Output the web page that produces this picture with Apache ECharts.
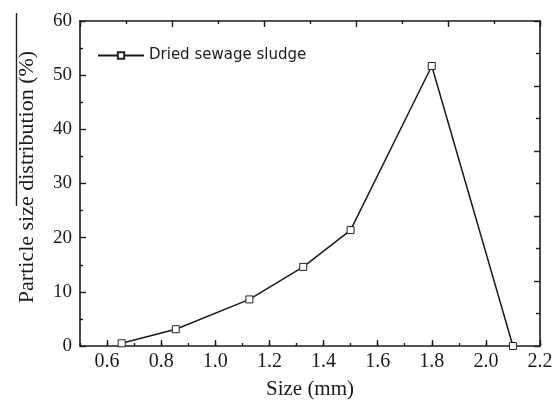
<!DOCTYPE html>
<html>
<head>
<meta charset="utf-8">
<style>
  html, body { margin: 0; padding: 0; background: #fff; }
  #chart { width: 560px; height: 402px; }
</style>
<script src="https://cdn.jsdelivr.net/npm/echarts@6/dist/echarts.min.js"></script>
</head>
<body>
<div id="chart"></div>
<script>
  // values
  const sizeMm = [0.654, 0.854, 1.126, 1.325, 1.5, 1.8, 2.1]
  const distribution = [0.5, 3.1, 8.6, 14.6, 21.4, 51.7, 0]
  const xTickLabels = [0.6, 0.8, 1.0, 1.2, 1.4, 1.6, 1.8, 2.0, 2.2]
  const seriesName = 'Dried sewage sludge'

  const serif = '"Liberation Serif", "Times New Roman", serif'
  const ink = '#1a1a1a'

  const chart = echarts.init(document.getElementById('chart'))

  const frameLine = { show: true, lineStyle: { color: ink, width: 1.6 } }

  const option = {
    animation: false,
    backgroundColor: '#fff',
    grid: { left: 80, right: 20, top: 21, bottom: 56, containLabel: false, outerBoundsMode: 'none' },
    graphic: [{
      type: 'line',
      shape: { x1: 16.5, y1: 13, x2: 16.5, y2: 206 },
      style: { stroke: '#222', lineWidth: 1.4 }
    }],
    legend: {
      left: 97,
      top: 48,
      padding: 0,
      itemWidth: 46,
      itemHeight: 8,
      data: [seriesName],
      textStyle: { fontFamily: '"DejaVu Sans", sans-serif', fontSize: 15, color: ink }
    },
    xAxis: [
      {
        type: 'value',
        position: 'bottom',
        min: 0.5,
        max: 2.2,
        interval: 0.1,
        name: 'Size (mm)',
        nameLocation: 'middle',
        nameGap: 33,
        nameTextStyle: { fontFamily: serif, fontSize: 21, color: ink },
        axisLine: frameLine,
        axisTick: { show: true, inside: true, length: 3, lineStyle: { color: ink, width: 1.4 } },
        axisLabel: {
          customValues: xTickLabels,
          formatter: v => v.toFixed(1),
          margin: 6,
          fontFamily: serif,
          fontSize: 20,
          color: ink
        },
        splitLine: { show: false }
      },
      {
        // longer ticks at the labelled values
        type: 'value',
        position: 'bottom',
        min: 0.5,
        max: 2.2,
        axisLine: { show: false },
        axisTick: { show: true, inside: true, length: 6, customValues: xTickLabels, lineStyle: { color: ink, width: 1.4 } },
        axisLabel: { show: false },
        splitLine: { show: false }
      },
      {
        type: 'value',
        position: 'top',
        min: 0,
        max: 5,
        interval: 1,
        axisLine: frameLine,
        axisTick: { show: true, inside: true, length: 6, lineStyle: { color: ink, width: 1.4 } },
        minorTick: { show: true, splitNumber: 2, length: 3, lineStyle: { color: ink, width: 1.4 } },
        axisLabel: { show: false },
        splitLine: { show: false }
      }
    ],
    yAxis: [
      {
        type: 'value',
        position: 'left',
        min: 0,
        max: 60,
        interval: 10,
        name: 'Particle size distribution (%)',
        nameLocation: 'middle',
        nameGap: 42,
        nameTextStyle: { fontFamily: serif, fontSize: 22, color: ink, padding: [0, 0, 0, 13] },
        axisLine: frameLine,
        axisTick: { show: true, inside: true, length: 6, lineStyle: { color: ink, width: 1.4 } },
        minorTick: { show: true, splitNumber: 2, length: 3, lineStyle: { color: ink, width: 1.4 } },
        axisLabel: { margin: 8, fontFamily: serif, fontSize: 19, color: ink },
        splitLine: { show: false }
      },
      {
        type: 'value',
        position: 'right',
        min: 0,
        max: 5,
        interval: 1,
        axisLine: frameLine,
        axisTick: { show: true, inside: true, length: 6, lineStyle: { color: ink, width: 1.4 } },
        minorTick: { show: true, splitNumber: 2, length: 4, lineStyle: { color: ink, width: 1.4 } },
        axisLabel: { show: false },
        splitLine: { show: false }
      }
    ],
    series: [{
      name: seriesName,
      type: 'line',
      xAxisIndex: 0,
      yAxisIndex: 0,
      clip: false,
      data: sizeMm.map((x, i) => [x, distribution[i]]),
      symbol: 'rect',
      symbolSize: 7,
      showAllSymbol: true,
      itemStyle: { color: '#fff', borderColor: '#222', borderWidth: 1 },
      lineStyle: { color: ink, width: 1.5 }
    }]
  }

  chart.setOption(option)
</script>
</body>
</html>
